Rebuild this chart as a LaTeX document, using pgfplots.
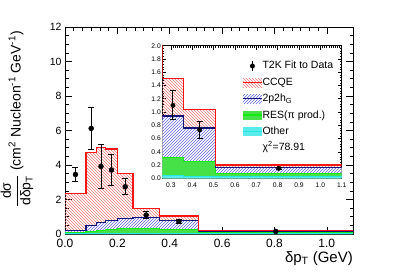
\documentclass[border=0pt]{standalone}
\usepackage{fontspec}
\setmainfont{Liberation Sans}
\usepackage{pgfplots}
\pgfplotsset{compat=1.18}
\usepackage{pgfplotstable}
\usetikzlibrary{patterns}

\definecolor{ccqe}{RGB}{250,20,20}
\definecolor{ccqehatch}{RGB}{240,120,120}
\definecolor{npnh}{RGB}{20,20,120}
\definecolor{npnhhatch}{RGB}{100,100,230}
\definecolor{resfill}{RGB}{70,225,70}
\definecolor{resline}{RGB}{20,235,20}
\definecolor{othfill}{RGB}{90,235,235}
\definecolor{othline}{RGB}{40,230,230}

% cumulative stacked histogram levels (x = lower bin edge), units 1e-39
\pgfplotstableread{
x tot blue green cyan
0 2.36 0.19 0.06 0.03
0.08 4.71 0.50 0.15 0.04
0.12 5.00 0.65 0.20 0.04
0.155 4.93 0.79 0.25 0.04
0.2 3.52 0.89 0.33 0.04
0.26 1.50 0.94 0.32 0.04
0.36 1.04 0.76 0.25 0.03
0.51 0.20 0.16 0.065 0.03
1.1 0.20 0.16 0.065 0.03
}\hist

\pgfplotstableread{
x y e
0.04 3.45 0.43
0.10 6.12 1.23
0.1375 3.92 1.27
0.1775 3.71 0.87
0.23 2.74 0.47
0.31 1.10 0.22
0.435 0.73 0.125
0.805 0.15 0.02
}\data

\newcommand{\stack}[1]{%
 \addplot[forget plot, const plot, draw=none, pattern=north west lines, pattern color=ccqehatch] table[x=x,y=tot]{\hist} \closedcycle;
 \addplot[forget plot, const plot, draw=none, fill=white, postaction={pattern=north east lines, pattern color=npnhhatch}] table[x=x,y=blue]{\hist} \closedcycle;
 \addplot[forget plot, const plot, draw=none, fill=resfill] table[x=x,y=green]{\hist} \closedcycle;
 \addplot[forget plot, const plot, draw=none, fill=othfill] table[x=x,y=cyan]{\hist} \closedcycle;
 \addplot[forget plot, const plot, othline, line width=0.8pt] table[x=x,y=cyan]{\hist};
 \addplot[forget plot, const plot, resline, line width=1pt] table[x=x,y=green]{\hist};
 \addplot[forget plot, const plot, npnh, line width=1.2pt] table[x=x,y=blue]{\hist};
 \addplot[forget plot, const plot, ccqe, line width=1.2pt] table[x=x,y=tot]{\hist};
 \addplot[forget plot, only marks, mark=*, mark size=#1, black,
   error bars/.cd, y dir=both, y explicit,
   error bar style={line width=1pt},
   error mark options={rotate=90, mark size=3pt, line width=1pt}]
   table[x=x,y=y,y error=e]{\data};
}

\begin{document}
\begin{tikzpicture}
\useasboundingbox (-65pt,-42pt) rectangle (342pt,234pt);
\begin{axis}[
  at={(0pt,0pt)}, anchor=south west,
  scale only axis, width=288pt, height=207pt,
  xmin=0, xmax=1.1, ymin=0, ymax=12,
  xtick={0,0.2,0.4,0.6,0.8,1.0},
  ytick={0,2,4,6,8,10,12},
  minor x tick num=5, minor y tick num=3,
  major tick length=7pt, minor tick length=3.5pt,
  axis line style={line width=0.8pt},
  every tick/.style={black, line width=0.6pt},
  /pgf/number format/assume math mode=true,
  xticklabel style={font=\fontsize{12}{12}\selectfont, /pgf/number format/.cd, fixed, fixed zerofill, precision=1},
  yticklabel style={font=\fontsize{10.5}{10.5}\selectfont},
  scaled y ticks=false,
  xticklabel shift=2pt,
  yticklabel shift=0pt,
]
\stack{2.5pt}
\node[anchor=base west, inner sep=0pt, font=\fontsize{9}{9}\selectfont] at (rel axis cs:0,1) [yshift=2pt] {×10\textsuperscript{-39}};
\end{axis}

\node[rotate=90, font=\fontsize{14}{14}\selectfont] at (-48pt,115pt)
  {$\displaystyle\frac{\mbox{dσ}}{\mbox{dδp\textsubscript{T}}}$ (cm\textsuperscript{2} Nucleon\textsuperscript{-1} GeV\textsuperscript{-1})};
\node[anchor=base east, inner sep=0pt, font=\fontsize{15}{15}\selectfont] at (288pt,-28.7pt) {δp\textsubscript{T} (GeV)};

\begin{axis}[
  at={(97.3pt,55.7pt)}, anchor=south west,
  scale only axis, width=179.4pt, height=132.6pt,
  xmin=0.26, xmax=1.1, ymin=0, ymax=2,
  xtick={0.3,0.4,0.5,0.6,0.7,0.8,0.9,1.0,1.1},
  ytick={0,0.2,0.4,0.6,0.8,1.0,1.2,1.4,1.6,1.8,2.0},
  minor x tick num=9, minor y tick num=4,
  major tick length=4pt, minor tick length=2pt,
  axis line style={line width=0.7pt},
  every tick/.style={black, line width=0.5pt},
  axis background/.style={fill=white},
  /pgf/number format/assume math mode=true,
  xticklabel style={font=\fontsize{6.7}{6.7}\selectfont, /pgf/number format/.cd, fixed, fixed zerofill, precision=1},
  yticklabel style={font=\fontsize{6.7}{6.7}\selectfont, /pgf/number format/.cd, fixed, fixed zerofill, precision=1},
  xticklabel shift=1pt, yticklabel shift=-2pt,
  legend cell align=left,
  legend style={at={(rel axis cs:0.445,0.89)}, anchor=north west, draw=none, fill=none,
    font=\fontsize{10.5}{12}\selectfont, row sep=6.2pt, inner sep=0pt,
    nodes={inner sep=0pt, text height=8pt, text depth=2pt},
    /tikz/every even column/.append style={column sep=3pt}},
]
\stack{2.2pt}
\addlegendimage{legend image code/.code={
  \draw[draw=black, line width=1pt] (9.5pt,-5pt)--(9.5pt,5pt);
  \fill[black, draw=none] (9.5pt,0pt) circle (2.5pt);
  \path[draw=none] (0pt,0pt) -- (19pt,0pt);}}
\addlegendentry{T2K Fit to Data}
\addlegendimage{legend image code/.code={
  \path[draw=none, pattern=north west lines, pattern color=ccqehatch] (0pt,-4.5pt) rectangle (19pt,4.5pt);
  \draw[draw=ccqe, line width=1.2pt] (0pt,0pt)--(19pt,0pt);}}
\addlegendentry{CCQE}
\addlegendimage{legend image code/.code={
  \path[draw=none, pattern=north east lines, pattern color=npnhhatch] (0pt,-4.5pt) rectangle (19pt,4.5pt);
  \draw[draw=npnh, line width=1.2pt] (0pt,0pt)--(19pt,0pt);}}
\addlegendentry{2p2h\textsubscript{G}}
\addlegendimage{legend image code/.code={
  \fill[resfill, draw=none] (0pt,-4.5pt) rectangle (19pt,4.5pt);
  \draw[draw=resline, line width=1.2pt] (0pt,0pt)--(19pt,0pt);}}
\addlegendentry{RES(π prod.)}
\addlegendimage{legend image code/.code={
  \fill[othfill, draw=none] (0pt,-4.5pt) rectangle (19pt,4.5pt);
  \draw[draw=othline, line width=1.2pt] (0pt,0pt)--(19pt,0pt);}}
\addlegendentry{Other}
\addlegendimage{empty legend}
\addlegendentry{χ\textsuperscript{2}=78.91}
\node[anchor=base west, inner sep=0pt, font=\fontsize{5.5}{5.5}\selectfont] at (rel axis cs:0,1) [yshift=1.5pt] {×10\textsuperscript{-39}};
\end{axis}
\end{tikzpicture}
\end{document}
